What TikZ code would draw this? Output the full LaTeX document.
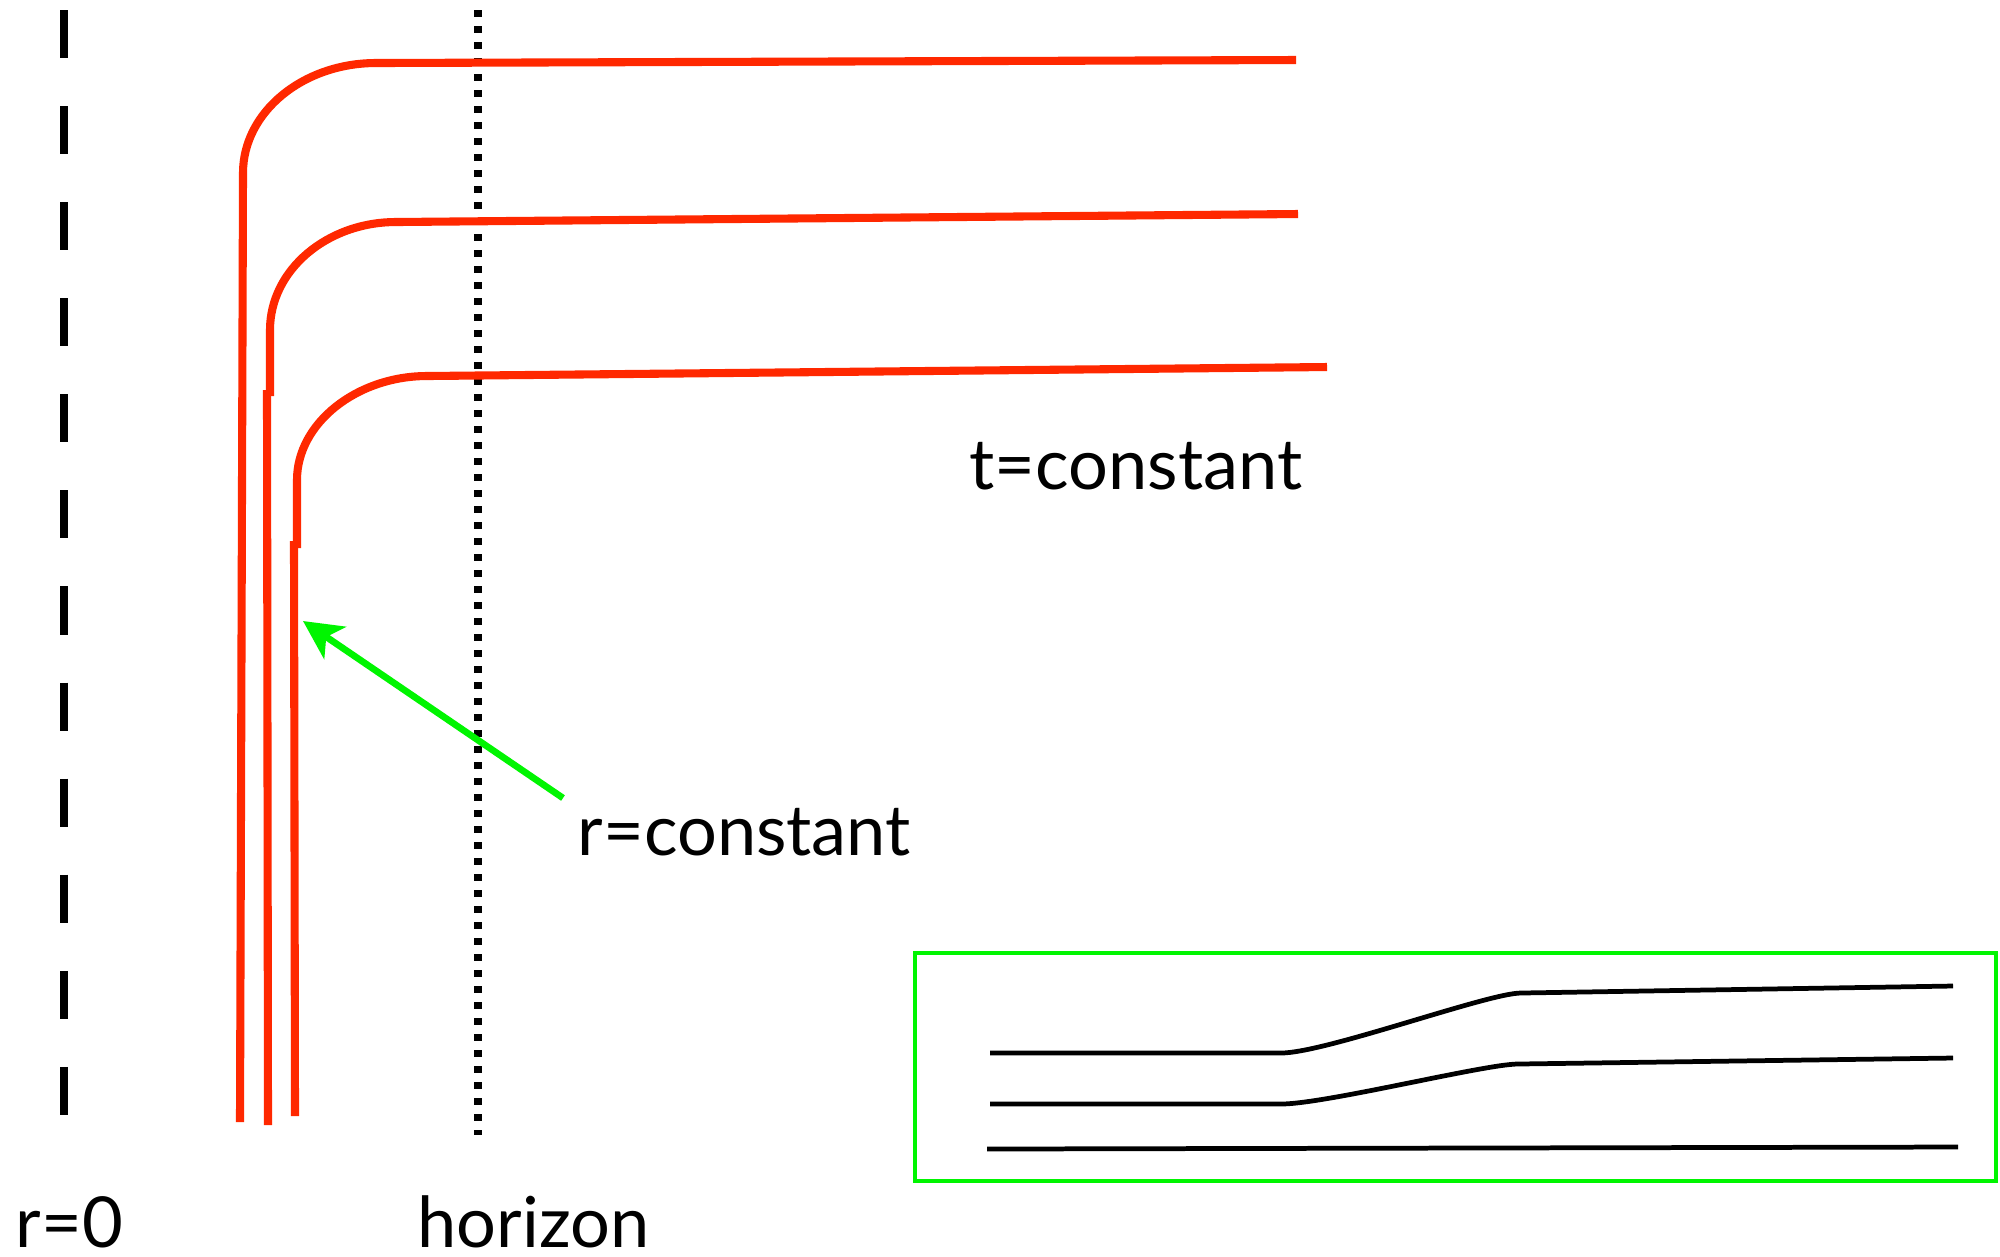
\documentclass[tikz,border=0pt]{standalone}
\usepackage{fontspec}
\setmainfont{Lato}
\usetikzlibrary{arrows.meta}
\definecolor{redline}{RGB}{255,40,0}
\definecolor{greenline}{RGB}{0,245,0}
\begin{document}
\begin{tikzpicture}[x=0.01cm,y=-0.01cm,
  redcurve/.style={draw=redline,line width=2.3pt},
  axisdash/.style={draw=black,line width=2pt,dash pattern=on 13.66pt off 13.66pt},
  horizondot/.style={draw=black,line width=2pt,dash pattern=on 2pt off 2.55pt},
  greenarrow/.style={draw=greenline,line width=1.9pt,-{Stealth[length=11pt,width=11pt,inset=3pt]}},
  greenbox/.style={draw=greenline,line width=1.25pt},
  blackline/.style={draw=black,line width=1.35pt},
  label/.style={anchor=base west,inner sep=0pt,font=\fontsize{20}{24}\selectfont}]
\useasboundingbox (0,0) rectangle (2000,1256);
% r=0 axis and horizon
\draw[axisdash] (64,10) -- (64,1115);
\draw[horizondot] (478,10) -- (478,1135);
% red curves
\draw[redcurve] (240,1122) -- (243,173) .. controls (243,112) and (303,63) .. (376,63) -- (1296,60);
\draw[redcurve] (270,396) -- (270,330) .. controls (270,270) and (327,222) .. (396,222) -- (1298,214);
\draw[redcurve] (267,390) -- (268,1125);
\draw[redcurve] (297,548) -- (297,480) .. controls (297,423) and (357,376) .. (427,376) -- (1327,367);
\draw[redcurve] (294,541) -- (295,1116);
% arrow
\coordinate (arrowtail) at (563,798);
\coordinate (arrowtip) at (303,621);
\draw[greenarrow] (arrowtail) -- (arrowtip);
% labels
\node[label] (tconst) at (969,489) {t=constant};
\node[label] (rconst) at (577,855) {r=constant};
\node[label] (rzero) at (15,1247) {r=0};
\node[label] (horizon) at (417,1247) {horizon};
% inset box
\draw[greenbox] (915,953) rectangle (1996,1181);
\draw[blackline] (990,1053) -- (1281,1053) .. controls (1325,1053) and (1488,993) .. (1521,993) -- (1953,986);
\draw[blackline] (990,1104) -- (1281,1104) .. controls (1325,1104) and (1485,1064) .. (1518,1064) -- (1953,1058);
\draw[blackline] (987,1149) -- (1958,1147);
\end{tikzpicture}
\end{document}
